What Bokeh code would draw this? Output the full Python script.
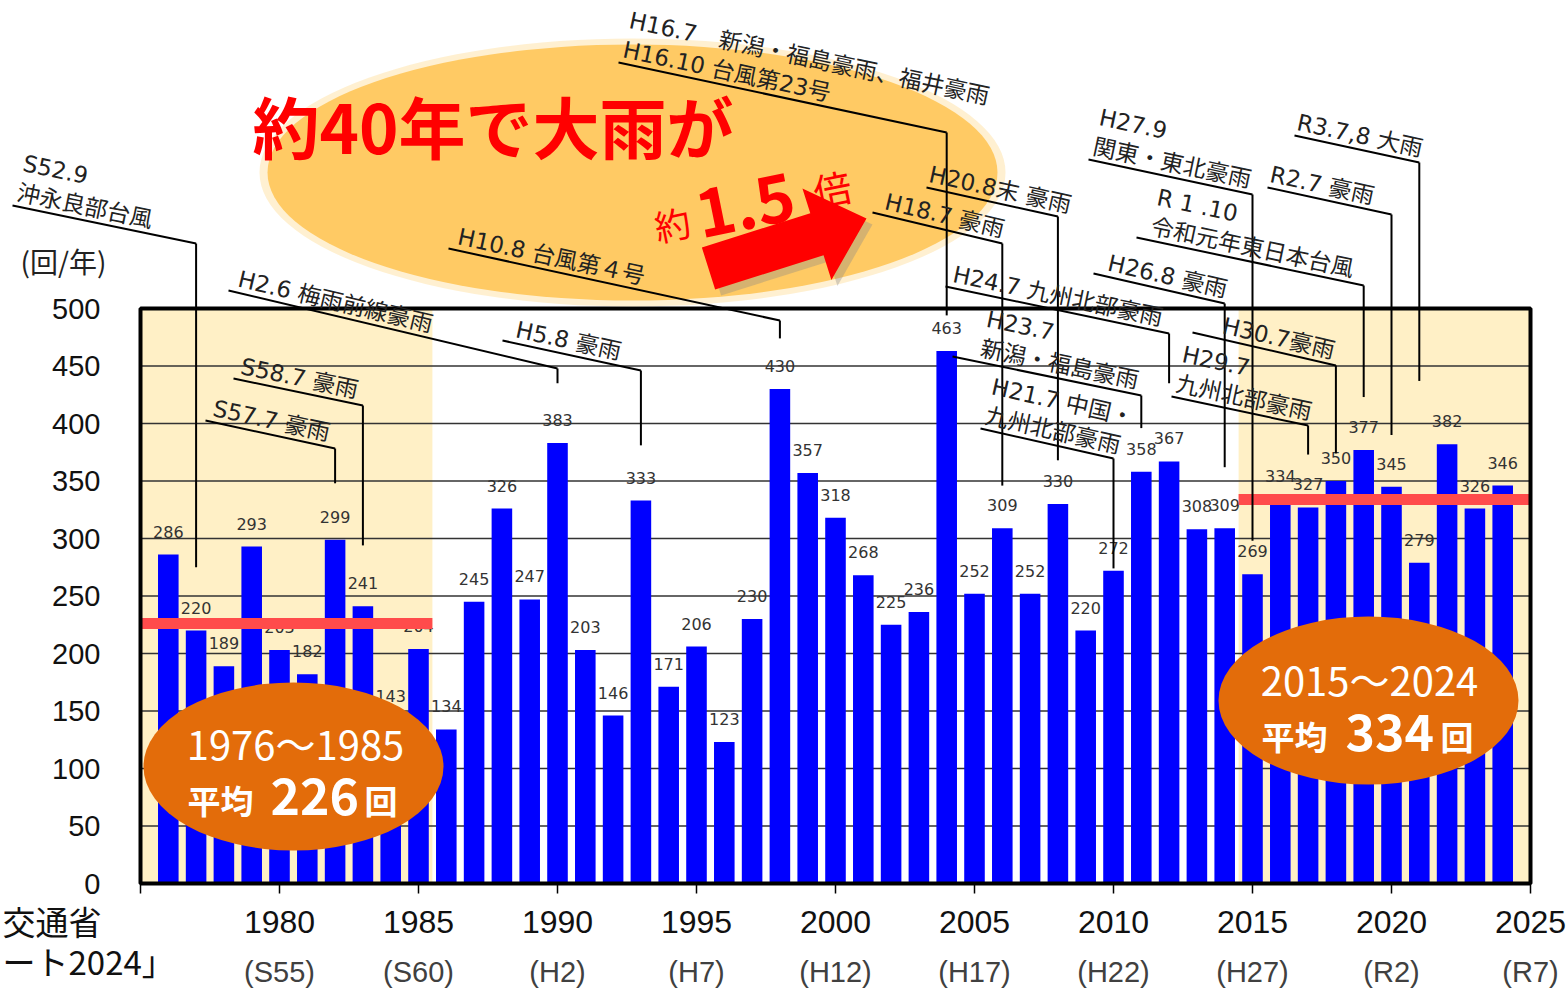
import math
from bokeh.plotting import figure
from bokeh.models import Range1d, LinearAxis, FixedTicker
from bokeh.core.properties import value
from bokeh.embed import file_html
from bokeh.resources import INLINE

# ---------------- data ----------------
years = list(range(1976, 2025))
counts = [286, 220, 189, 293, 203, 182, 299, 241, 143, 204,
          134, 245, 326, 247, 383, 203, 146, 333, 171, 206,
          123, 230, 430, 357, 318, 268, 225, 236, 463, 252,
          309, 252, 330, 220, 272, 358, 367, 308, 309, 269,
          334, 327, 350, 377, 345, 279, 382, 326, 346]
tick_years = [1975, 1980, 1985, 1990, 1995, 2000, 2005, 2010, 2015, 2020, 2025]
year_labels = ["", "1980", "1985", "1990", "1995", "2000", "2005", "2010", "2015", "2020", "2025"]
era_labels = ["", "(S55)", "(S60)", "(H2)", "(H7)", "(H12)", "(H17)", "(H22)", "(H27)", "(R2)", "(R7)"]
y_ticks = [0, 50, 100, 150, 200, 250, 300, 350, 400, 450, 500]
period_names = ["1976～1985", "2015～2024"]
period_avgs = [226, 334]
period_starts = [1975, 2014.5]
period_ends = [1985.5, 2025]
event_labels = ["S52.9\n沖永良部台風", "S58.7 豪雨", "S57.7 豪雨", "H2.6 梅雨前線豪雨", "H5.8 豪雨",
                "H10.8 台風第４号", "H16.7　新潟・福島豪雨、福井豪雨\nH16.10 台風第23号",
                "H20.8末 豪雨", "H18.7 豪雨", "H24.7  九州北部豪雨", "H23.7\n新潟・福島豪雨",
                "H21.7 中国・\n九州北部豪雨", "H27.9\n関東・東北豪雨", "R3.7,8 大雨", "R2.7 豪雨",
                "R 1 .10\n令和元年東日本台風", "H26.8 豪雨", "H30.7豪雨", "H29.7\n九州北部豪雨"]
event_years = [1977, 1983, 1982, 1990, 1993, 1998, 2004, 2008, 2006, 2012, 2011,
               2010, 2015, 2021, 2020, 2019, 2014, 2018, 2017]

# ---------------- layout (screen pixel estimates) ----------------
def X(px):
    return 1975 + (px - 140) / 27.8

def Y(py):
    return (883 - py) / 1.15

def PX(x):
    return 140 + (x - 1975) * 27.8

# leader end (data), underline start px, elbow y px, text shift along underline
leader_end = [275, 294, 348, 435, 381, 474, 494, 368, 346, 435, 396, 274, 298, 437, 390, 423, 362, 374, 373]
ul_x = [12, 233, 205, 228, 502, 448, 618, 926, 872, 945, 952, 980, 1088, 1294, 1267, 1136, 1093, 1192, 1171]
ul_y = [205, 378, 420, 290, 340, 248, 62, 187, 212, 286, 356, 428, 159, 135, 187, 237, 273, 332, 396]
elb_y = [243, 405, 448, 368, 370, 320, 132, 216, 243, 333, 395, 458, 194, 162, 214, 285, 303, 365, 425]
shift = [2, 5, 5, 7, 11, 7, 2, 0, 10, 5, 26, 2, 2, 0, 0, 12, 12, 28, 2]

W, H = 1566, 988
p = figure(width=W, height=H, x_range=Range1d(X(0), X(W)), y_range=Range1d(Y(H), Y(0)),
           output_backend="svg", toolbar_location=None, min_border=0,
           x_axis_type=None, y_axis_type=None, outline_line_color=None,
           background_fill_color="white", border_fill_color="white")

XFONT = "Liberation Sans"

ax_year = LinearAxis(ticker=FixedTicker(ticks=tick_years),
                     major_label_overrides={t: l for t, l in zip(tick_years, year_labels)},
                     fixed_location=0, axis_line_color=None, major_tick_in=0, major_tick_out=10,
                     major_tick_line_color="black", major_tick_line_width=1.5,
                     minor_tick_line_color=None, major_label_standoff=17,
                     major_label_text_font=XFONT, major_label_text_font_size="32px",
                     major_label_text_color="#111111")
p.add_layout(ax_year, "below")
ax_era = LinearAxis(ticker=FixedTicker(ticks=tick_years),
                    major_label_overrides={t: l for t, l in zip(tick_years, era_labels)},
                    fixed_location=0, axis_line_color=None, major_tick_in=0, major_tick_out=0,
                    major_tick_line_color=None, minor_tick_line_color=None, major_label_standoff=72,
                    major_label_text_font=XFONT, major_label_text_font_size="29px",
                    major_label_text_color="#404040")
p.add_layout(ax_era, "below")
ax_y = LinearAxis(ticker=FixedTicker(ticks=y_ticks), fixed_location=1975, axis_line_color=None,
                  major_tick_in=0, major_tick_out=0, minor_tick_line_color=None,
                  major_label_standoff=40, major_label_text_font="Liberation Sans",
                  major_label_text_font_size="29px", major_label_text_color="#111111")
p.add_layout(ax_y, "left")

# shaded periods
p.quad(left=period_starts, right=period_ends, bottom=0, top=500, fill_color="#FFF0C6", line_color=None)
# gridlines
p.segment(x0=1975, x1=2025, y0=y_ticks[1:-1], y1=y_ticks[1:-1], line_color="#333333", line_width=1.4)
# bars
p.vbar(x=years, top=counts, width=0.74, fill_color="#0000FF", line_color=None)
# value labels
p.text(x=years, y=counts, text=[str(c) for c in counts], text_align="center", text_baseline="bottom",
       y_offset=-17, text_font=value("DejaVu Sans"), text_font_size="16px", text_color="#333333")
# average lines
p.segment(x0=period_starts, x1=period_ends, y0=period_avgs, y1=period_avgs,
          line_color="#FF4B4B", line_width=11)
# frame
p.quad(left=1975, right=2025, bottom=0, top=500, fill_color=None, line_color="black", line_width=4)

# big light-orange ellipse
p.ellipse(x=X(632), y=Y(172), width=746 / 27.8, height=268 / 1.15, fill_color="#FFCC66",
          fill_alpha=0.3, line_color=None)
p.ellipse(x=X(632), y=Y(172), width=730 / 27.8, height=256 / 1.15, fill_color="#FFCA64", line_color=None)

# arrow
def arrow_pts(tx, ty, hx, hy, sw, hw, hl, off=0):
    dx, dy = hx - tx, hy - ty
    L = math.hypot(dx, dy)
    ux, uy = dx / L, dy / L
    nx, ny = uy, -ux
    bx, by = tx + ux * (L - hl), ty + uy * (L - hl)
    pts = [(tx + nx * sw, ty + ny * sw), (bx + nx * sw, by + ny * sw), (bx + nx * hw, by + ny * hw),
           (hx, hy), (bx - nx * hw, by - ny * hw), (bx - nx * sw, by - ny * sw), (tx - nx * sw, ty - ny * sw)]
    return [X(a + off) for a, b in pts], [Y(b + off) for a, b in pts]

sx, sy = arrow_pts(708, 268, 866, 218, 22, 48, 52, off=6)
p.patch(sx, sy, fill_color="#888888", fill_alpha=0.35, line_color=None)
axs, ays = arrow_pts(708, 268, 866, 218, 22, 48, 52)
p.patch(axs, ays, fill_color="#FF0000", line_color=None)

# annotations
seg_x0, seg_y0, seg_x1, seg_y1 = [], [], [], []
tx, ty, tang = [], [], []
for lab, yr, endv, ux0, uy0, ey, sh in zip(event_labels, event_years, leader_end, ul_x, ul_y, elb_y, shift):
    ex = PX(yr)
    dx, dy = ex - ux0, ey - uy0
    L = math.hypot(dx, dy)
    ux, uy = dx / L, dy / L
    seg_x0 += [X(ux0), yr]
    seg_y0 += [Y(uy0), Y(ey)]
    seg_x1 += [yr, yr]
    seg_y1 += [Y(ey), endv]
    gap = 1
    ax = ux0 + ux * sh + uy * gap
    ay = uy0 + uy * sh - ux * gap
    tx.append(X(ax))
    ty.append(Y(ay))
    tang.append(-math.atan2(dy, dx))
p.segment(x0=seg_x0, y0=seg_y0, x1=seg_x1, y1=seg_y1, line_color="black", line_width=2)
p.text(x=tx, y=ty, text=event_labels, angle=tang, text_align="left", text_baseline="bottom",
       text_font=value("DejaVu Sans, Noto Sans CJK JP"), text_font_size="23px", text_color="#222222",
       text_line_height=1.15)

# orange period ellipses
p.ellipse(x=[X(293), X(1368)], y=[Y(766), Y(700)], width=300 / 27.8, height=168 / 1.15,
          fill_color="#E36C0A", line_color=None)
CJK = value("Noto Sans CJK JP")
p.text(x=[X(295), X(1369)], y=[Y(742), Y(678)], text=period_names, text_align="center",
       text_baseline="middle", text_font=CJK, text_font_size="40px", text_color="white")
p.text(x=[X(187), X(1261)], y=[Y(799), Y(735)], text=["平均", "平均"], text_baseline="middle",
       text_font=CJK, text_font_style="bold", text_font_size="33px", text_color="white")
p.text(x=[X(270), X(1345)], y=[Y(796), Y(732)], text=[str(v) for v in period_avgs], text_baseline="middle",
       text_font=CJK, text_font_style="bold", text_font_size="50px", text_color="white")
p.text(x=[X(364), X(1440)], y=[Y(799), Y(735)], text=["回", "回"], text_baseline="middle",
       text_font=CJK, text_font_style="bold", text_font_size="33px", text_color="white")

# headline
p.text(x=[X(252)], y=[Y(124)], text=["約40年で大雨が"], text_baseline="middle", text_font=CJK,
       text_font_style="bold", text_font_size="67px", text_color="#FF0000")
ang = 0.2
p.text(x=[X(654)], y=[Y(226)], text=["約"], angle=ang, text_baseline="alphabetic", text_font=CJK,
       text_font_size="36px", text_color="#FF0000")
p.text(x=[X(696)], y=[Y(214)], text=["1.5"], angle=ang, text_baseline="alphabetic", text_font=CJK,
       text_font_style="bold", text_font_size="66px", text_color="#FF0000")
p.text(x=[X(813)], y=[Y(191)], text=["倍"], angle=ang, text_baseline="alphabetic", text_font=CJK,
       text_font_size="38px", text_color="#FF0000")

# unit label and source fragments
p.text(x=[X(20)], y=[Y(260)], text=["(回/年)"], text_baseline="middle", text_font=CJK,
       text_font_size="28px", text_color="#222222")
p.text(x=[X(2), X(2)], y=[Y(920), Y(960)], text=["交通省", "ート2024」"], text_baseline="middle",
       text_font=CJK, text_font_size="33px", text_color="#111111")

open("out.html", "w").write(file_html(p, INLINE))
